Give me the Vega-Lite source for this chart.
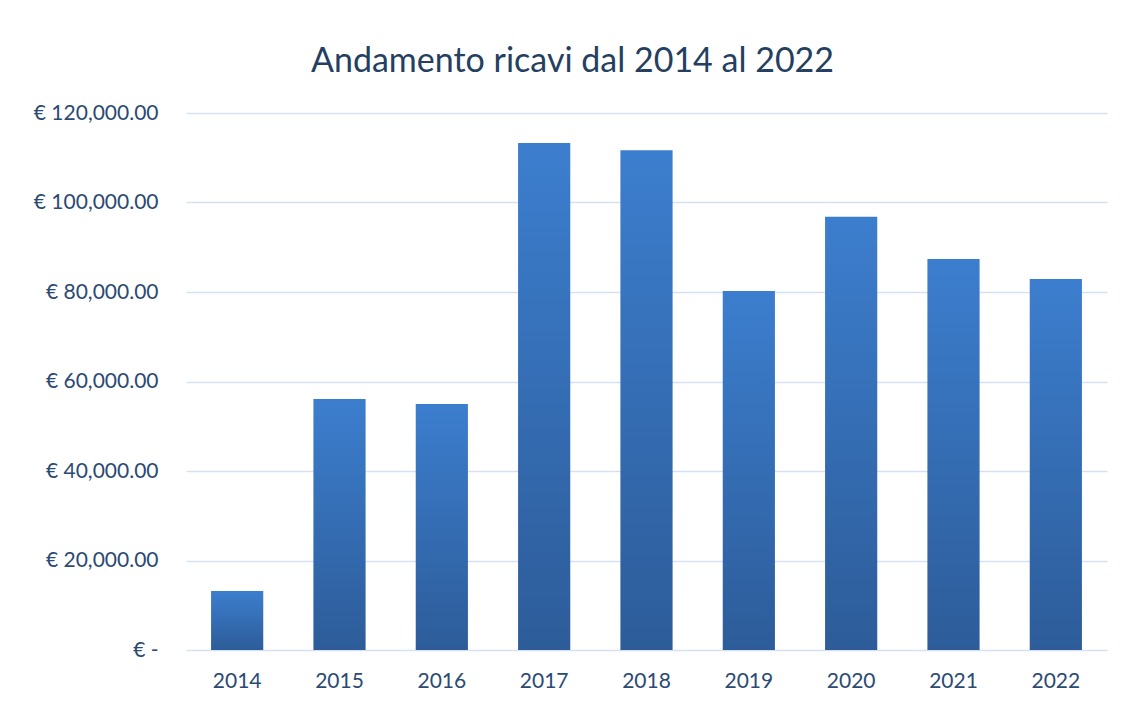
{
  "$schema": "https://vega.github.io/schema/vega-lite/v6.json",
  "width": 921,
  "height": 537,
  "autosize": "none",
  "padding": {"left": 186, "top": 113, "right": 18, "bottom": 54},
  "background": "white",
  "title": {
    "text": "Andamento ricavi dal 2014 al 2022",
    "font": "Lato",
    "fontSize": 34,
    "fontWeight": "normal",
    "color": "#243F60",
    "anchor": "middle",
    "dx": -74,
    "offset": 23
  },
  "data": {
    "values": [
      {"anno": "2014", "ricavi": 13200},
      {"anno": "2015", "ricavi": 56100},
      {"anno": "2016", "ricavi": 55000},
      {"anno": "2017", "ricavi": 113300},
      {"anno": "2018", "ricavi": 111700},
      {"anno": "2019", "ricavi": 80200},
      {"anno": "2020", "ricavi": 96800},
      {"anno": "2021", "ricavi": 87400},
      {"anno": "2022", "ricavi": 82900}
    ]
  },
  "mark": {
    "type": "bar",
    "color": {
      "gradient": "linear",
      "x1": 0, "y1": 0, "x2": 0, "y2": 1,
      "stops": [
        {"offset": 0, "color": "#3C7ECE"},
        {"offset": 1, "color": "#2D5C99"}
      ]
    }
  },
  "encoding": {
    "x": {
      "field": "anno",
      "type": "nominal",
      "scale": {"paddingInner": 0.49, "paddingOuter": 0.245},
      "axis": {
        "title": null,
        "labelAngle": 0,
        "labelFont": "Lato",
        "labelFontSize": 21,
        "labelColor": "#2B4A74",
        "labelPadding": 20,
        "ticks": false,
        "domain": false
      }
    },
    "y": {
      "field": "ricavi",
      "type": "quantitative",
      "scale": {"domain": [0, 120000], "nice": false},
      "axis": {
        "title": null,
        "values": [0, 20000, 40000, 60000, 80000, 100000, 120000],
        "labelExpr": "datum.value == 0 ? '€ -' : '€ ' + format(datum.value, ',.2f')",
        "labelFont": "Lato",
        "labelFontSize": 21,
        "labelColor": "#2B4A74",
        "labelPadding": 28,
        "ticks": false,
        "domain": false,
        "gridColor": "#D5E1F2",
        "gridWidth": 1.5
      }
    }
  },
  "config": {"view": {"stroke": null}}
}
